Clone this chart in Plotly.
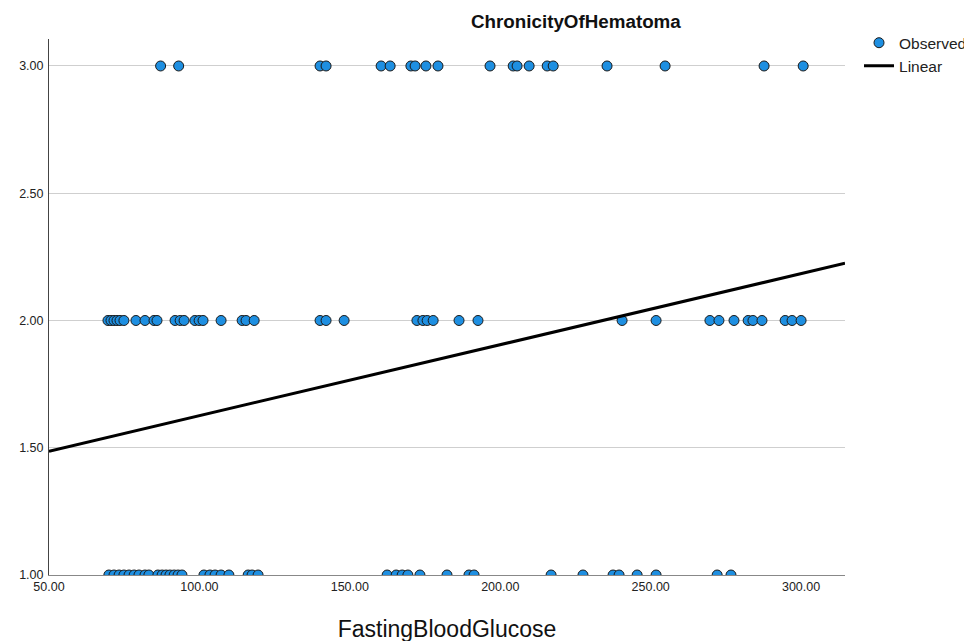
import plotly.graph_objects as go

glucose_chron3 = [87.1, 93.1, 140.1, 142.1, 160.4, 163.4, 170.3, 171.7, 175.3, 179.3,
                  196.6, 204.3, 205.6, 209.6, 215.6, 217.6, 235.5, 254.8, 287.7, 300.7]
glucose_chron2 = [69.6, 70.6, 71.6, 72.6, 73.6, 74.9, 78.9, 81.9, 84.9, 85.9, 91.9, 93.6,
                  94.9, 98.5, 99.9, 101.2, 107.2, 114.2, 115.5, 118.2, 140.1, 142.1, 148.1,
                  172.3, 174.3, 175.7, 177.7, 186.3, 192.6, 240.5, 251.8, 269.7, 272.7,
                  277.7, 282.4, 284.0, 287.0, 294.7, 297.0, 300.0]
glucose_chron1 = [69.9, 71.6, 73.3, 74.9, 76.6, 78.3, 79.9, 81.9, 83.2, 86.2, 87.6, 88.9,
                  90.2, 91.6, 92.9, 94.2, 101.5, 103.5, 105.2, 107.2, 109.8, 116.2, 117.5,
                  119.5, 162.4, 165.4, 167.4, 169.3, 173.3, 182.3, 189.6, 191.3, 216.9,
                  227.5, 237.5, 239.5, 245.5, 251.8, 272.1, 276.7]

# Linear fit coefficients
intercept = 1.347
slope = 0.00279
x_range = [50, 314.6]
y_range = [1.0, 3.106]

x_ticks = [50, 100, 150, 200, 250, 300]
y_ticks = [1.0, 1.5, 2.0, 2.5, 3.0]

obs_x = glucose_chron3 + glucose_chron2 + glucose_chron1
obs_y = [3] * len(glucose_chron3) + [2] * len(glucose_chron2) + [1] * len(glucose_chron1)

line_x = x_range
line_y = [intercept + slope * v for v in line_x]

FONT = "Liberation Sans, Arial, sans-serif"

L, R, T, B = 41, 135, 31, 74
PW = 972 - L - R

fig = go.Figure()
fig.add_trace(go.Scatter(
    x=obs_x, y=obs_y, mode="markers", name="Observed",
    marker=dict(size=10, color="#1E8FE1", line=dict(color="#1a1a1a", width=1)),
    cliponaxis=True,
))
fig.add_trace(go.Scatter(
    x=line_x, y=line_y, mode="lines", name="Linear",
    line=dict(color="black", width=3),
))

fig.update_layout(
    width=972, height=641,
    margin=dict(l=L, r=R, t=T, b=B, autoexpand=False),
    paper_bgcolor="white", plot_bgcolor="white",
    font=dict(family=FONT, color="#222"),
    showlegend=True,
    legend=dict(x=1.0176, y=1.024, xanchor="left", yanchor="top",
                font=dict(size=15.5, color="#222", family=FONT),
                bgcolor="rgba(0,0,0,0)", tracegroupgap=0, itemwidth=30),
    annotations=[
        dict(text="<b>ChronicityOfHematoma</b>", xref="paper", yref="paper",
             x=(568 - L) / PW, y=1.0, yshift=5, xanchor="center", yanchor="bottom",
             showarrow=False, font=dict(size=18.8, family=FONT, color="#111")),
    ],
)

fig.update_xaxes(
    range=x_range, tickvals=x_ticks, tickformat=".2f", automargin=False,
    showgrid=False, zeroline=False,
    showline=True, linecolor="#888", linewidth=1,
    ticks="", tickfont=dict(size=12.5, color="#222"),
    title=dict(text="FastingBloodGlucose", font=dict(size=23, color="#111"), standoff=27),
)
fig.update_yaxes(
    range=y_range, tickvals=y_ticks, tickformat=".2f", automargin=False,
    showgrid=True, gridcolor="#cfcfcf", gridwidth=1, zeroline=False,
    showline=True, linecolor="#444", linewidth=1,
    ticks="", ticklabelstandoff=2, tickfont=dict(size=12.5, color="#222"),
)

fig.write_html("out.html")
